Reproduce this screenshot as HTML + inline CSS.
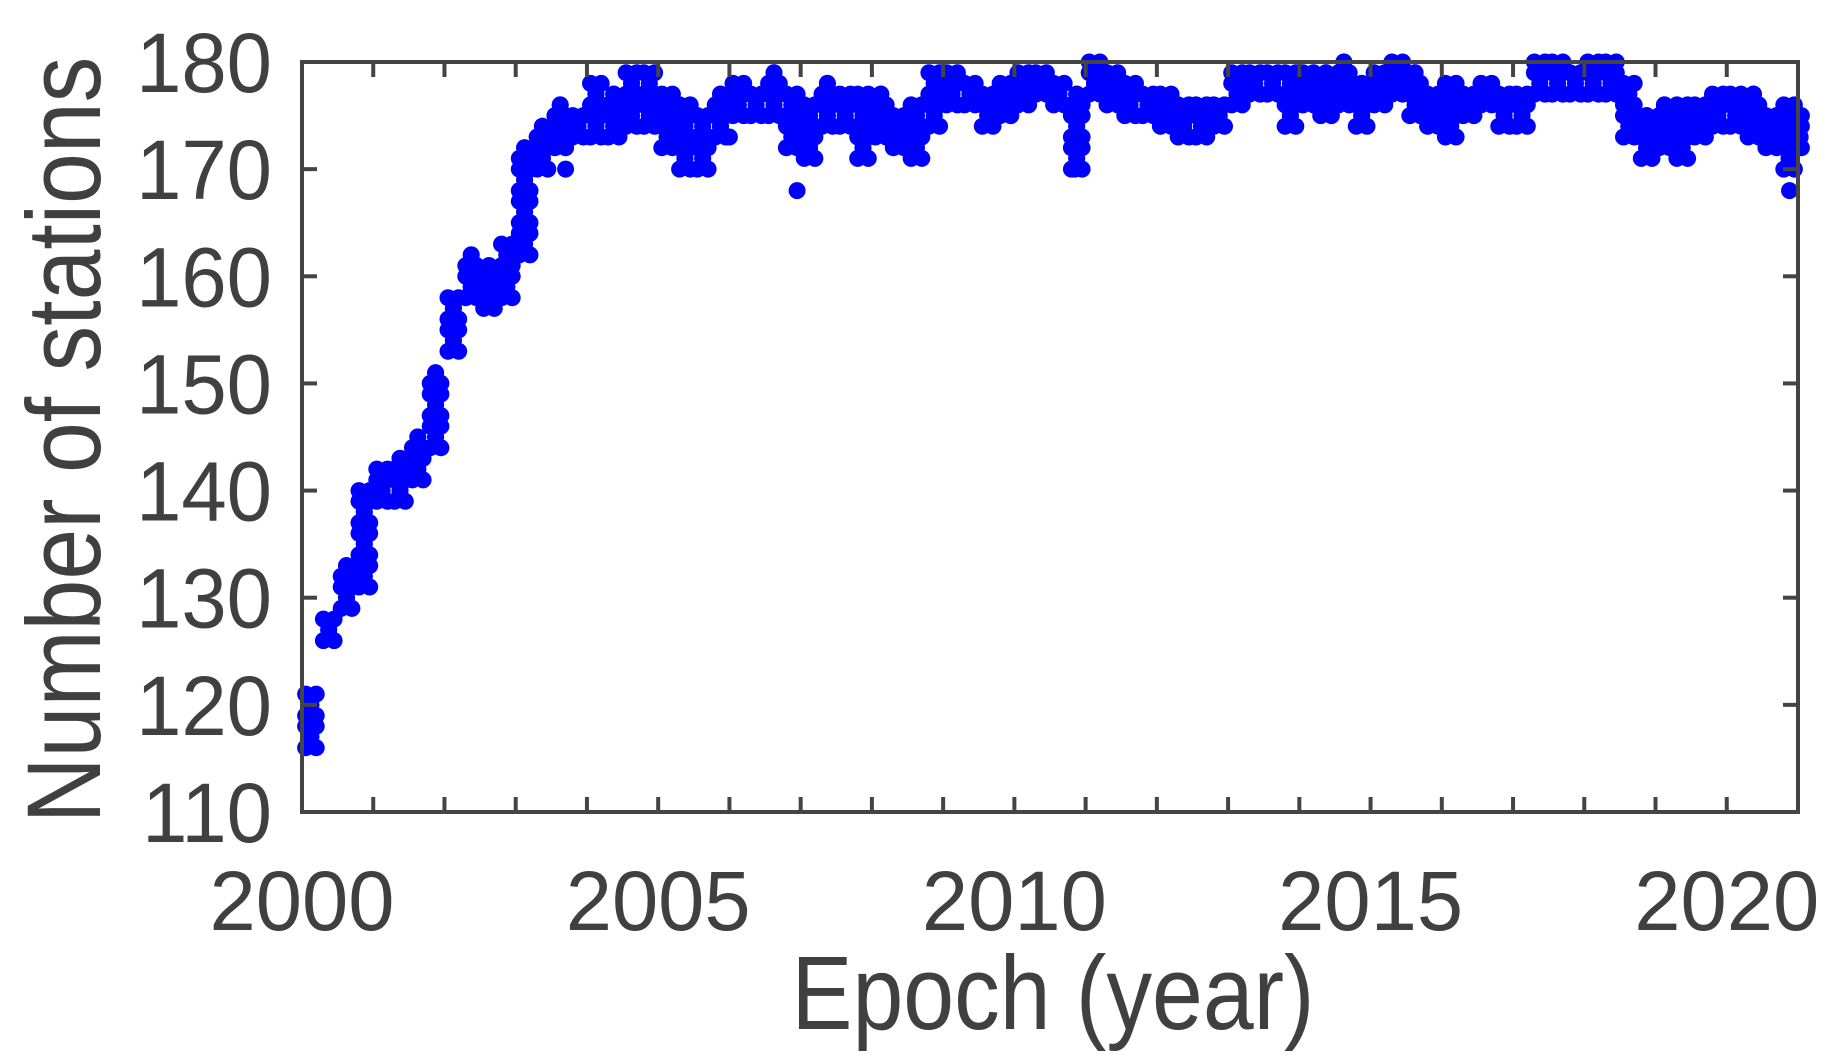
<!DOCTYPE html>
<html><head><meta charset="utf-8"><style>
html,body{margin:0;padding:0;background:#fff;}
svg{display:block;}
text{font-family:"Liberation Sans",Arial,sans-serif;fill:#404040;}
</style></head><body>
<svg id="chart" width="1845" height="1062" viewBox="0 0 1845 1062" xmlns="http://www.w3.org/2000/svg">
<rect width="1845" height="1062" fill="#fff"/>
<g id="marks"></g>
<g id="axes"></g>
</svg>
<script>
// bin start years (0.25-yr bins) with low/high station counts
const binYears = [2000.00,2000.25,2000.50,2000.75,2001.00,2001.25,2001.50,2001.75,2002.00,2002.25,2002.50,2002.75,2003.00,2003.25,2003.50,2003.75,2004.00,2004.25,2004.50,2004.75,2005.00,2005.25,2005.50,2005.75,2006.00,2006.25,2006.50,2006.75,2007.00,2007.25,2007.50,2007.75,2008.00,2008.25,2008.50,2008.75,2009.00,2009.25,2009.50,2009.75,2010.00,2010.25,2010.50,2010.75,2011.00,2011.25,2011.50,2011.75,2012.00,2012.25,2012.50,2012.75,2013.00,2013.25,2013.50,2013.75,2014.00,2014.25,2014.50,2014.75,2015.00,2015.25,2015.50,2015.75,2016.00,2016.25,2016.50,2016.75,2017.00,2017.25,2017.50,2017.75,2018.00,2018.25,2018.50,2018.75,2019.00,2019.25,2019.50,2019.75,2020.00,2020.25,2020.50,2020.75,2021.00];
const lowCounts = [116,126,129,131,139,139,141,144,153,158,157,158,162,170,172,173,173,173,174,174,172,170,170,173,175,175,175,172,171,174,174,171,173,172,171,174,176,176,174,175,176,177,176,170,177,176,175,175,174,173,173,174,176,177,177,174,176,175,176,174,176,177,175,174,173,175,176,174,174,177,177,177,177,177,173,171,172,171,173,174,174,173,172,170,172];
const highCounts = [121,128,133,140,142,143,145,151,158,162,161,163,172,174,176,175,178,177,179,179,177,176,175,177,178,177,179,177,176,178,177,177,177,175,176,179,179,178,177,178,179,179,178,177,180,179,178,177,177,176,176,176,179,179,179,179,179,179,180,178,179,180,179,177,178,177,178,177,177,180,180,179,180,180,178,175,176,176,176,177,177,177,175,176,175];
const outlierYears = [2003.70,2006.00,2006.95,2020.88,2010.85];
const outlierCounts = [170,173,168,168,170];
const xTicks = [2000,2005,2010,2015,2020];
const yTicks = [110,120,130,140,150,160,170,180];

const X0=302, X1=1798, Y0=62, Y1=812;
const xMin=2000, xMax=2021, yMin=110, yMax=180;
const xs = v => X0 + (v-xMin)/(xMax-xMin)*(X1-X0);
const ys = v => Y1 - (v-yMin)/(yMax-yMin)*(Y1-Y0);
const NS="http://www.w3.org/2000/svg";
const marks=document.getElementById('marks');
const axes=document.getElementById('axes');
function dot(yr,v){
  const c=document.createElementNS(NS,'circle');
  c.setAttribute('cx',xs(yr).toFixed(1));
  c.setAttribute('cy',ys(v).toFixed(1));
  c.setAttribute('r',8.5);
  c.setAttribute('fill','#0000ff');
  
  
  marks.appendChild(c);
}
binYears.forEach((y,i)=>{
  const w = (i===binYears.length-1)?0.06:0.25;
  for(let v=lowCounts[i]; v<=highCounts[i]; v++){
    const k=(v-lowCounts[i])%3;
    dot(y+w*(0.2+0.3*k), v);
    dot(y+w*(0.8-0.3*k), v);
  }
});
outlierYears.forEach((y,i)=>dot(y,outlierCounts[i]));

function line(x1,y1,x2,y2,name){
  const l=document.createElementNS(NS,'line');
  l.setAttribute('x1',x1);l.setAttribute('y1',y1);l.setAttribute('x2',x2);l.setAttribute('y2',y2);
  l.setAttribute('stroke','#444');l.setAttribute('stroke-width',4);
  
  
  axes.appendChild(l);
}
function txt(x,y,s,size,anchor,name,rot,sx){
  const t=document.createElementNS(NS,'text');
  t.textContent=s;
  t.setAttribute('font-size',size);
  t.setAttribute('text-anchor',anchor);
  let tr='translate('+x+','+y+')';
  if(rot) tr+=' rotate('+rot+')';
  tr+=' scale('+sx+',1)';
  t.setAttribute('transform',tr);
  
  
  axes.appendChild(t);
}
const fr=document.createElementNS(NS,'rect');
fr.setAttribute('x',X0);fr.setAttribute('y',Y0);fr.setAttribute('width',X1-X0);fr.setAttribute('height',Y1-Y0);
fr.setAttribute('fill','none');fr.setAttribute('stroke','#444');fr.setAttribute('stroke-width',4);


axes.appendChild(fr);
for(let yr=2001; yr<=2020; yr++){
  const x=xs(yr);
  line(x,Y1,x,Y1-15,'x-tick');
  line(x,Y0,x,Y0+15,'x-tick-top');
}
yTicks.forEach(v=>{
  const y=ys(v);
  if(v!==yMin && v!==yMax){
    line(X0,y,X0+15,y,'y-tick');
    line(X1,y,X1-15,y,'y-tick-right');
  }
  txt(272,y+30,String(v),84,'end','y-tick-label',0,0.97);
});
xTicks.forEach(v=>txt(xs(v),930,String(v),84,'middle','x-tick-label',0,0.99));
txt(1053,1029,'Epoch (year)',105,'middle','x-axis-title',0,0.87);
txt(100,440,'Number of stations',105,'middle','y-axis-title',-90,0.87);
</script>
</body></html>
